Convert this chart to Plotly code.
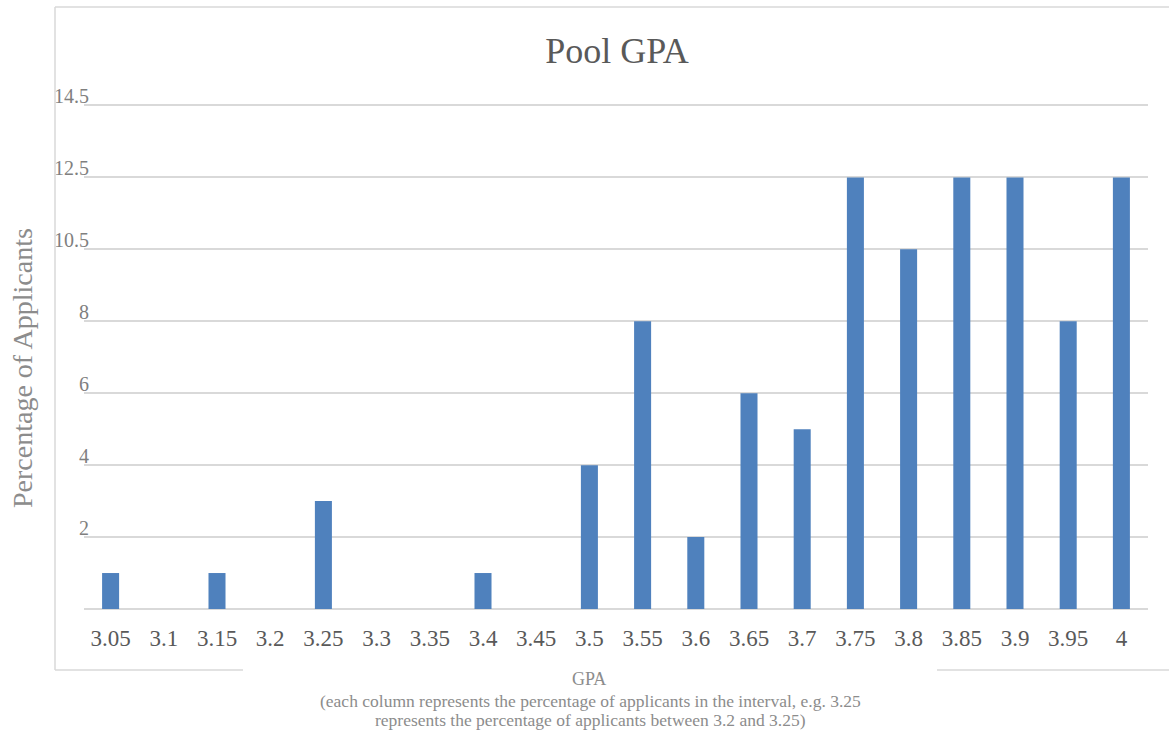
import numpy as np
import plotly.graph_objects as go

categories = ["3.05", "3.1", "3.15", "3.2", "3.25", "3.3", "3.35", "3.4", "3.45", "3.5",
              "3.55", "3.6", "3.65", "3.7", "3.75", "3.8", "3.85", "3.9", "3.95", "4"]
percentages = [1, 0, 1, 0, 3, 0, 0, 1, 0, 4, 8, 2, 6, 5, 12.5, 10.5, 12.5, 12.5, 8, 12.5]

# y-axis labels as printed on the chart (equally spaced gridlines)
y_tick_labels = [0, 2, 4, 6, 8, 10.5, 12.5, 14.5]
y_tick_positions = list(range(0, 2 * len(y_tick_labels), 2))

# map values onto the chart's (equally spaced) label scale
bar_heights = np.interp(percentages, y_tick_labels, y_tick_positions)

FONT = "Liberation Serif"
GRID = "#d9d9d9"

fig = go.Figure(go.Bar(
    x=categories, y=bar_heights, marker=dict(color="#4f81bd", line=dict(width=0)),
    width=0.32, hoverinfo="skip"))

W, H = 1169, 731
L, R, T, B = 84, 21, 104, 122
pw, ph = W - L - R, H - T - B

def px(x):
    return (x - L) / pw

def py(y):
    return (H - B - y) / ph

line = dict(color=GRID, width=1.5)
shapes = [
    dict(type="line", xref="paper", yref="paper", x0=px(55), x1=px(55), y0=py(670), y1=py(7), line=line),
    dict(type="line", xref="paper", yref="paper", x0=px(55), x1=px(1175), y0=py(7), y1=py(7), line=line),
    dict(type="line", xref="paper", yref="paper", x0=px(55), x1=px(243), y0=py(670), y1=py(670), line=line),
    dict(type="line", xref="paper", yref="paper", x0=px(937), x1=px(1175), y0=py(670), y1=py(670), line=line),
]

fig.update_layout(
    width=W, height=H,
    margin=dict(l=L, r=R, t=T, b=B, autoexpand=False),
    paper_bgcolor="white", plot_bgcolor="white",
    showlegend=False,
    title=dict(text="Pool GPA", x=617 / W, xanchor="center", y=1 - 50 / H, yanchor="middle",
               font=dict(family=FONT, size=36, color="#595959")),
    xaxis=dict(type="category", tickfont=dict(family=FONT, size=23, color="#595959"),
               showgrid=False, showline=False, ticks="", ticklabelstandoff=13),
    yaxis=dict(range=[0, 14.04], tickvals=y_tick_positions[1:],
               ticktext=[f"{v:g}" for v in y_tick_labels[1:]],
               tickfont=dict(family=FONT, size=20, color="#7f7f7f"),
               showgrid=True, gridcolor=GRID, gridwidth=1.5,
               zeroline=True, zerolinecolor=GRID, zerolinewidth=1.5,
               showline=False, ticks="", ticklabelstandoff=-6, ticklabelshift=-9),
    bargap=0.68,
    shapes=shapes,
    annotations=[
        dict(text="Percentage of Applicants", xref="paper", yref="paper", x=px(22), y=py(368),
             textangle=-90, showarrow=False, xanchor="center", yanchor="middle",
             font=dict(family=FONT, size=28, color="#8c8c8c")),
        dict(text="GPA", xref="paper", yref="paper", x=px(589), y=py(679),
             showarrow=False, xanchor="center", yanchor="middle",
             font=dict(family=FONT, size=18, color="#8c8c8c")),
        dict(text="(each column represents the percentage of applicants in the interval, e.g. 3.25",
             xref="paper", yref="paper", x=px(590), y=py(701),
             showarrow=False, xanchor="center", yanchor="middle",
             font=dict(family=FONT, size=17.5, color="#8c8c8c")),
        dict(text="represents the percentage of applicants between 3.2 and 3.25)",
             xref="paper", yref="paper", x=px(590), y=py(720),
             showarrow=False, xanchor="center", yanchor="middle",
             font=dict(family=FONT, size=17.5, color="#8c8c8c")),
    ],
)

fig.write_html("out.html", config={"displayModeBar": False},
               post_script="document.body.style.margin='0';")
